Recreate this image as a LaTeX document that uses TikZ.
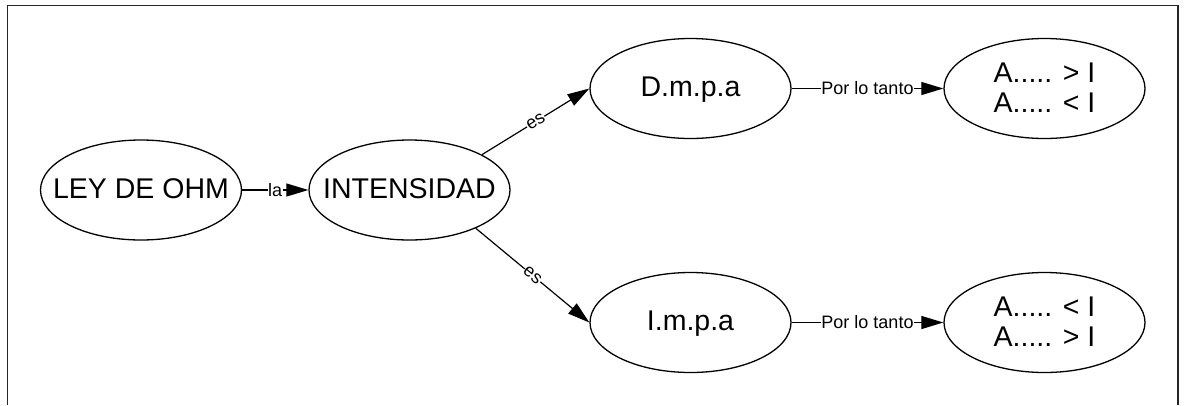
\documentclass[tikz,border=0pt]{standalone}
\usepackage{fontspec}
\setmainfont{Liberation Sans}
\usetikzlibrary{arrows.meta,shapes.geometric}
\newcommand\onetext[1]{\makebox[0pt]{#1}}
\newcommand\twotext[2]{\makebox[0pt]{\begin{tabular}[b]{@{}c@{}}#1\\#2\end{tabular}}}
\begin{document}
\begin{tikzpicture}[x=1pt,y=-1pt,
  concept/.style={draw, ellipse, line width=1.3pt, minimum width=201pt, minimum height=100pt,
    inner sep=0pt, font=\fontsize{28.5}{30}\selectfont, text height=20pt, text depth=3.5pt},
  pair/.style={concept, text height=48pt, text depth=1pt},
  link/.style={draw, line width=1.2pt, -{Triangle[length=22pt,width=13pt]}},
  lbl/.style={fill=white, inner sep=0.5pt, font=\fontsize{18}{20}\selectfont}]
\useasboundingbox (0,0) rectangle (1186,405);
\draw[line width=1.6pt, black!85] (7.5,405) -- (7.5,5.5) -- (1178,5.5) -- (1178,405);

\node[concept] (ley)  at (141,190)    {\onetext{LEY DE OHM}};
\node[concept] (int)  at (409.5,190)  {\onetext{INTENSIDAD}};
\node[concept] (dmpa) at (690.5,88.5) {\onetext{D.m.p.a}};
\node[pair]    (amay) at (1044.5,88.5) {\twotext{A..... > I}{A..... < I}};
\node[concept] (impa) at (690.5,322.5) {\onetext{I.m.p.a}};
\node[pair]    (amen) at (1044.5,322.5) {\twotext{A..... < I}{A..... > I}};

\draw[link] (ley.east) -- node[lbl]{la} (int.west);
\draw[link] (int.26.7) -- node[lbl,sloped]{es} (dmpa.west);
\draw[link] (int.-30.8) -- node[lbl,sloped]{es} (impa.west);
\draw[link] (dmpa.east) -- node[lbl]{Por lo tanto} (amay.west);
\draw[link] (impa.east) -- node[lbl]{Por lo tanto} (amen.west);
\end{tikzpicture}
\end{document}
